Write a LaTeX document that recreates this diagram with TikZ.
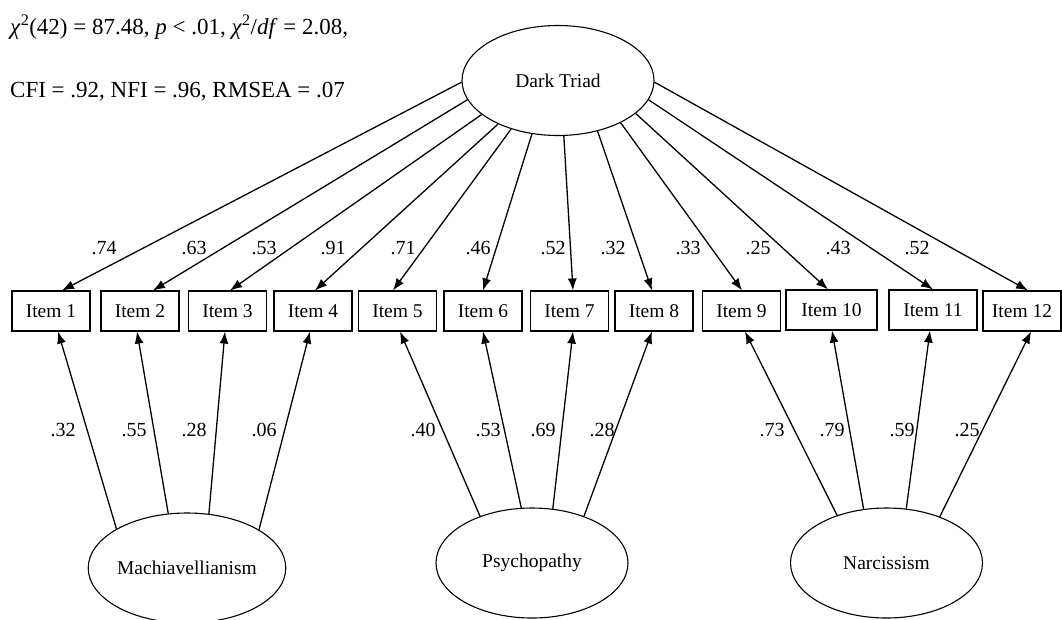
\documentclass[tikz,border=0pt]{standalone}
\usepackage{fontspec}
\setmainfont{Liberation Serif}
\usetikzlibrary{shapes.geometric,arrows.meta,calc}
\begin{document}
\begin{tikzpicture}[x=1pt,y=-1pt,
  item/.style={draw,line width=1.1pt,minimum width=78pt,minimum height=40pt,inner sep=0pt,font=\fontsize{19.5}{23}\selectfont},
  latent/.style={draw,ellipse,line width=1.1pt,minimum width=192pt,minimum height=110pt,inner sep=0pt,font=\fontsize{19.5}{23}\selectfont},
  conn/.style={line width=1.3pt,-{Latex[length=12pt,width=9pt]}},
  lbl/.style={font=\fontsize{20}{24}\selectfont,inner sep=0pt},
  fit/.style={font=\fontsize{23}{27}\selectfont,inner sep=0pt,anchor=base west}]
\useasboundingbox (0,0) rectangle (1062,619);

\node[fit] (fit1) at (10,34.5) {\textit{χ}\textsuperscript{2}(42) = 87.48, \textit{p} < .01, \textit{χ}\textsuperscript{2}/\textit{df} = 2.08,};
\node[fit] (fit2) at (10,97) {CFI = .92, NFI = .96, RMSEA = .07};

\node[latent] (dt) at (558,80.5) {Dark Triad};
\node[latent] (mach) at (187,568) {Machiavellianism};
\node[latent] (psy) at (532,563) {Psychopathy};
\node[latent] (nar) at (886.5,563) {Narcissism};

\node[item] (i1) at (51,311) {Item 1};
\node[item] (i2) at (140,311) {Item 2};
\node[item] (i3) at (227.5,311) {Item 3};
\node[item] (i4) at (313,311) {Item 4};
\node[item] (i5) at (397.5,311) {Item 5};
\node[item] (i6) at (483,311) {Item 6};
\node[item] (i7) at (569.5,311) {Item 7};
\node[item] (i8) at (654,311) {Item 8};
\node[item] (i9) at (741.5,311) {Item 9};
\node[item,minimum width=91pt] (i10) at (831.5,310) {Item 10};
\node[item,minimum width=88pt] (i11) at (933,310) {Item 11};
\node[item] (i12) at (1022,311) {Item 12};

% Dark Triad loadings
\draw[conn] (dt.181) -- ($(i1.north)+(11,0)$);
\draw[conn] (dt.192) -- ($(i2.north)+(13,0)$);
\draw[conn] (dt.204) -- ($(i3.north)+(2.5,0)$);
\draw[conn] (dt.216) -- ($(i4.north)+(2,0)$);
\draw[conn] (dt.226) -- ($(i5.north)+(-4.5,0)$);
\draw[conn] (dt.244) -- (i6.north);
\draw[conn] (dt.276) -- ($(i7.north)+(3.5,0)$);
\draw[conn] (dt.308) -- ($(i8.north)+(-2,0)$);
\draw[conn] (dt.326) -- ($(i9.north)+(0.5,0)$);
\draw[conn] (dt.337) -- ($(i10.north)+(-3.5,0)$);
\draw[conn] (dt.348) -- (i11.north);
\draw[conn] (dt.359) -- ($(i12.north)+(6,0)$);

% specific factors
\draw[conn] (mach.151) -- ($(i1.south)+(7,0)$);
\draw[conn] (mach.109) -- ($(i2.south)+(-3,0)$);
\draw[conn] (mach.68) -- ($(i3.south)+(-2.5,0)$);
\draw[conn] (mach.28) -- ($(i4.south)+(-3,0)$);
\draw[conn] (psy.138) -- ($(i5.south)+(2.5,0)$);
\draw[conn] (psy.101) -- (i6.south);
\draw[conn] (psy.69) -- ($(i7.south)+(3.5,0)$);
\draw[conn] (psy.42) -- ($(i8.south)+(-2,0)$);
\draw[conn] (nar.136) -- ($(i9.south)+(3.5,0)$);
\draw[conn] (nar.113) -- ($(i10.south)+(0.5,0)$);
\draw[conn] (nar.70) -- ($(i11.south)+(-3,0)$);
\draw[conn] (nar.41) -- ($(i12.south)+(9,0)$);

% top labels
\node[lbl] (l1) at (104,248) {.74};
\node[lbl] (l2) at (194,248) {.63};
\node[lbl] (l3) at (264,248) {.53};
\node[lbl] (l4) at (333,248) {.91};
\node[lbl] (l5) at (403,248) {.71};
\node[lbl] (l6) at (478,248) {.46};
\node[lbl] (l7) at (553,248) {.52};
\node[lbl] (l8) at (613,248) {.32};
\node[lbl] (l9) at (688,248) {.33};
\node[lbl] (l10) at (758,248) {.25};
\node[lbl] (l11) at (838,248) {.43};
\node[lbl] (l12) at (917,248) {.52};

% bottom labels
\node[lbl] (b1) at (63,430) {.32};
\node[lbl] (b2) at (134,430) {.55};
\node[lbl] (b3) at (194,430) {.28};
\node[lbl] (b4) at (264,430) {.06};
\node[lbl] (b5) at (423,430) {.40};
\node[lbl] (b6) at (488,430) {.53};
\node[lbl] (b7) at (543,430) {.69};
\node[lbl] (b8) at (602,430) {.28};
\node[lbl] (b9) at (772,430) {.73};
\node[lbl] (b10) at (832,430) {.79};
\node[lbl] (b11) at (902,430) {.59};
\node[lbl] (b12) at (967,430) {.25};
\end{tikzpicture}
\end{document}
